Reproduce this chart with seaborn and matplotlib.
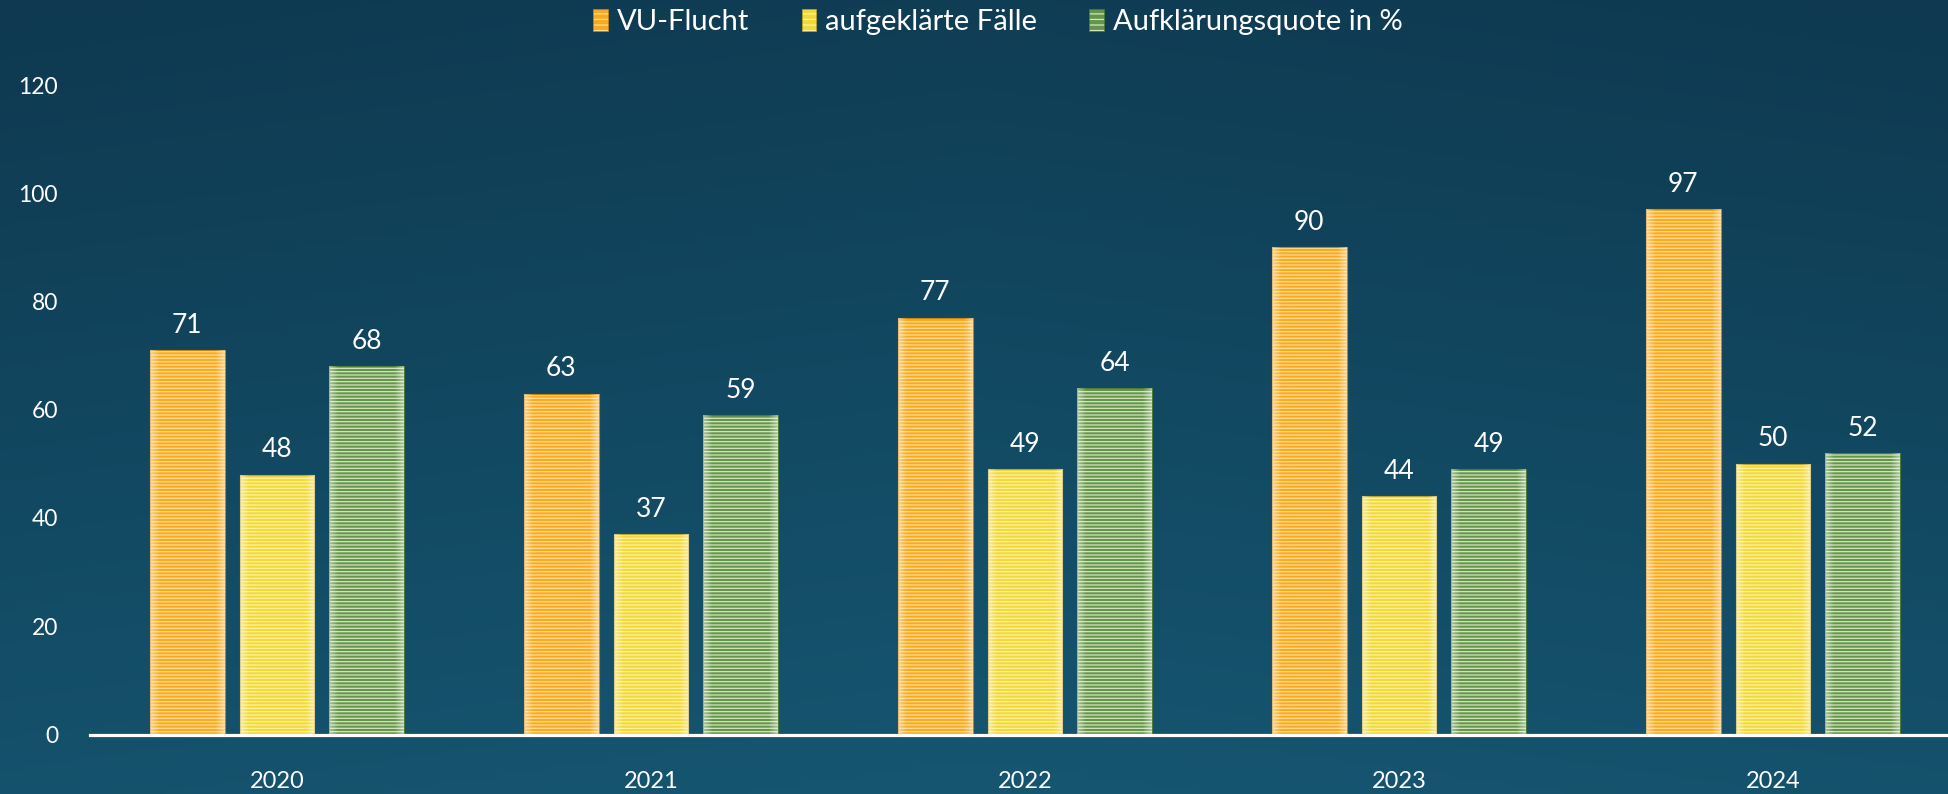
import numpy as np
import pandas as pd
import matplotlib
matplotlib.use("Agg")
import matplotlib.pyplot as plt
from matplotlib.patches import Patch
from matplotlib.colors import to_rgba
import seaborn as sns

years = ["2020", "2021", "2022", "2023", "2024"]
series = ["VU-Flucht", "aufgeklärte Fälle", "Aufklärungsquote in %"]
vu_flucht = [71, 63, 77, 90, 97]
aufgeklaert = [48, 37, 49, 44, 50]
quote = [68, 59, 64, 49, 52]
y_ticks = [0, 20, 40, 60, 80, 100, 120]

colors = ["#f9ab1f", "#f2d93a", "#64954a"]
stripe_colors = ["#ffdc98", "#fff0a0", "#d4e6c0"]
edge_colors = ["#c98410", "#b9a530", "#4c7a38"]

df = pd.DataFrame({
    "Jahr": years * 3,
    "Serie": [series[0]] * 5 + [series[1]] * 5 + [series[2]] * 5,
    "Wert": vu_flucht + aufgeklaert + quote,
})

sns.set_theme(style="white")
plt.rcParams["font.family"] = ["Lato", "DejaVu Sans"]
plt.rcParams["hatch.linewidth"] = 0.9

W, H = 1949, 794
fig = plt.figure(figsize=(W / 100, H / 100), dpi=100)

# background gradient (row 0 = top)
bg = fig.add_axes([0, 0, 1, 1], zorder=-10)
yy, xx = np.mgrid[0:1:200j, 0:1:400j]
t = np.clip(0.85 * yy + 0.15 * (1 - np.abs(xx - 0.5) * 2), 0, 1)
top = np.array([0x0e, 0x39, 0x50]) / 255
bot = np.array([0x16, 0x56, 0x71]) / 255
img = top[None, None, :] * (1 - t[..., None]) + bot[None, None, :] * t[..., None]
bg.imshow(img, origin="upper", aspect="auto", extent=[0, 1, 0, 1])
bg.axis("off")

ax = fig.add_axes([90 / W, 59.5 / H, 1 - 90 / W, (734.5 - 85) / H])
ax.set_facecolor("none")

sns.barplot(data=df, x="Jahr", y="Wert", hue="Serie", order=years,
            hue_order=series, palette=colors, width=0.72, gap=0.167,
            ax=ax, legend=False, saturation=1)

gx = np.linspace(0, 1, 64)
alpha = (np.clip(1 - gx / 0.12, 0, 1) + np.clip((gx - 0.88) / 0.12, 0, 1)) * 0.45
grad = np.zeros((1, 64, 4))
grad[..., :3] = 1.0
grad[0, :, 3] = alpha

for i, cont in enumerate(ax.containers):
    for p in cont.patches:
        p.set_hatch("-----")
        p.set_edgecolor(edge_colors[i])
        p.set_linewidth(0.8)
        p._hatch_color = to_rgba(stripe_colors[i])
        p.set_zorder(2)
        x0, y0 = p.get_x(), p.get_y()
        w, h = p.get_width(), p.get_height()
        im = ax.imshow(grad, extent=[x0, x0 + w, y0, y0 + h], aspect="auto",
                       zorder=2.5, interpolation="bilinear")
        im.set_clip_path(p)
    labels = [f"{v:.0f}" for v in cont.datavalues]
    ax.bar_label(cont, labels=labels, padding=9, color="white", fontsize=19)

ax.set_xlim(-0.5, (W - 277) / 374)
ax.set_ylim(0, 120)
ax.set_yticks(y_ticks)
ax.set_xlabel("")
ax.set_ylabel("")
for s in ["top", "right", "left"]:
    ax.spines[s].set_visible(False)
ax.spines["bottom"].set_color("white")
ax.spines["bottom"].set_linewidth(2.3)
ax.spines["bottom"].set_zorder(5)
ax.tick_params(axis="y", length=0, pad=23, labelsize=16.5, labelcolor="white")
ax.tick_params(axis="x", length=0, pad=26, labelsize=17, labelcolor="white")
ax.grid(False)

handles = [Patch(facecolor=c, edgecolor=ec, hatch="---", linewidth=0.5)
           for c, ec in zip(colors, edge_colors)]
leg = fig.legend(handles, series, loc="center", bbox_to_anchor=(998 / W, 1 - 22 / H),
                 ncol=3, frameon=False, fontsize=21, labelcolor="white",
                 handlelength=0.5, handleheight=0.8, handletextpad=0.3,
                 columnspacing=1.8)
for hp, sc in zip(leg.legend_handles, stripe_colors):
    hp._hatch_color = to_rgba(sc)

fig.savefig("out.png", dpi=100)
